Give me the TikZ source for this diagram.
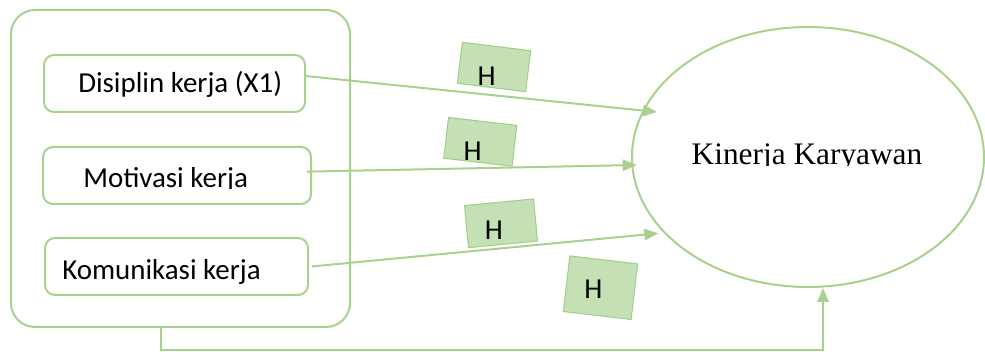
\documentclass[tikz,border=0pt]{standalone}
\usepackage{fontspec}
\setmainfont{Liberation Serif}
\newfontfamily\calib{Carlito}
\usetikzlibrary{arrows.meta,shapes.geometric}
\definecolor{lineg}{RGB}{169,209,142}
\definecolor{fillg}{RGB}{197,224,180}
\definecolor{edgeg}{RGB}{160,205,135}

\begin{document}
\begin{tikzpicture}[x=0.75pt,y=-0.75pt,
  link/.style={draw=lineg,line width=1.5pt},
  varbox/.style={draw=lineg,line width=1.5pt,rounded corners=7.5pt,minimum height=42.75pt,inner sep=0pt},
  hbox/.style={draw=edgeg,line width=0.75pt,fill=fillg,inner sep=0pt},
  arr/.style={link,-{Triangle[length=10.5pt,width=8.5pt]}},
  lbl/.style={font=\calib\fontsize{21.7}{26}\selectfont,inner sep=0pt},
]
\useasboundingbox (0,0) rectangle (985,352);

% group of independent variables
\node[draw=lineg,line width=1.5pt,rounded corners=18pt,minimum width=254.25pt,minimum height=237.75pt] (grp) at (180.5,168.5) {};
\node[varbox,minimum width=195.75pt] (b1) at (174.5,83.5) {};
\node[varbox,minimum width=201pt] (b2) at (177,175.5) {};
\node[varbox,minimum width=197.25pt] (b3) at (176.5,266.5) {};

\node[lbl,anchor=base west] (l1) at (78,93) {Disiplin kerja (X1)};
\begin{scope}
  \clip (60,140) rectangle (300,189);
  \node[lbl,anchor=base west] (l2) at (83,188) {Motivasi kerja};
\end{scope}
\node[lbl,anchor=base west] (l3) at (62,280) {Komunikasi kerja};

% dependent variable
\node[draw=lineg,line width=1.5pt,ellipse,minimum width=264pt,minimum height=195pt,inner sep=0pt] (kin) at (808,157) {};
\begin{scope}
  \clip (640,100) rectangle (980,166);
  \node[font=\fontsize{23.5}{28}\selectfont,anchor=base,inner sep=0pt] (kt) at (807,165) {Kinerja Karyawan};
\end{scope}

% hypothesis tags
\node[hbox,rotate=-7,minimum width=51.6pt,minimum height=31pt] (h1) at (494,67) {};
\node[lbl] (ht1) at (486.7,76.7) {H};
\node[hbox,rotate=-6.7,minimum width=51.6pt,minimum height=30.8pt] (h2) at (480.3,141.8) {};
\node[lbl] (ht2) at (472.7,151.7) {H};
\node[hbox,rotate=5.5,minimum width=52pt,minimum height=31.7pt] (h3) at (501,223.3) {};
\node[lbl] (ht3) at (494,230) {H};
\node[hbox,rotate=-6.7,minimum width=51.2pt,minimum height=42pt] (h4) at (600.5,287.7) {};
\node[lbl] (ht4) at (593.3,289.3) {H};

% paths of influence
\coordinate (a1) at (657,112);
\coordinate (a2) at (636.7,165);
\coordinate (a3) at (658.3,233.3);
\coordinate (turn) at (823,350);
\draw[arr] ([yshift=5.6pt]b1.east) -- (a1);
\draw[arr] ([xshift=-3.75pt,yshift=2.9pt]b2.east) -- (a2);
\draw[arr] ([xshift=2pt]b3.east) -- (a3);
\draw[arr] ([xshift=-14.6pt]grp.south) |- (turn) -- (turn |- kin.south);
\end{tikzpicture}
\end{document}
